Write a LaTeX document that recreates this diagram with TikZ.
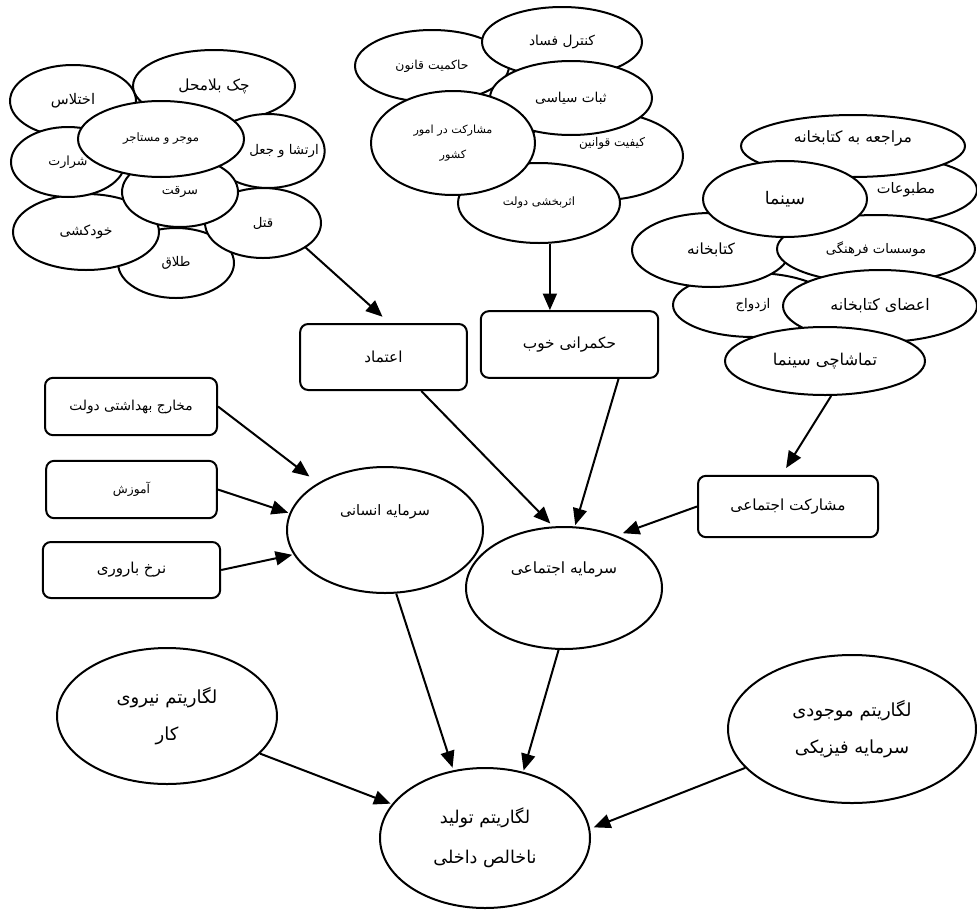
\documentclass[tikz,border=0pt]{standalone}
\usepackage{fontspec}
\newfontfamily\fafont[Script=Arabic]{DejaVu Sans}
\TeXXeTstate=1
\usetikzlibrary{shapes.geometric, arrows.meta}

\begin{document}
\begin{tikzpicture}[x=0.75pt, y=-0.75pt, >={Triangle[length=12.5pt,width=10.5pt]},
        every node/.style={font=\fafont\fontsize{11}{13}\selectfont},
        fsize/.style={font=\fafont\fontsize{#1}{#1}\selectfont},
        oval/.style={ellipse, draw, fill=white, line width=1.5pt, inner sep=0pt},
        box/.style={rectangle, rounded corners=6pt, draw, fill=white, line width=1.5pt, inner sep=0pt},
        link/.style={->, line width=1.5pt}]

        \useasboundingbox (0,0) rectangle (977,910);

        % social problems (left cluster)
        \node[oval, fsize=11, minimum width=94.5pt, minimum height=54pt] (ekhtelas) at (73,101) {\beginR اختلاس\endR};
        \node[oval, fsize=11.5, minimum width=121.5pt, minimum height=54pt] (chek) at (214,86) {\beginR چک بلامحل\endR};
        \node[oval, minimum width=85pt, minimum height=55.5pt, label={[fsize=10, xshift=12pt]center:\beginR ارتشا و جعل\endR}] (ertesha) at (268,151) {};
        \node[oval, fsize=10, minimum width=87pt, minimum height=52.5pt] (talagh) at (176,263) {\beginR طلاق\endR};
        \node[oval, fsize=10, minimum width=87pt, minimum height=52.5pt] (ghatl) at (263,223) {\beginR قتل\endR};
        \node[oval, fsize=10.5, minimum width=109.5pt, minimum height=57pt] (khodkoshi) at (86,232) {\beginR خودکشی\endR};
        \node[oval, fsize=9.5, minimum width=85.5pt, minimum height=52.5pt] (shararat) at (68,162) {\beginR شرارت\endR};
        \node[oval, fsize=9.5, minimum width=87pt, minimum height=52.5pt] (serghat) at (180,192) {\beginR سرقت\endR};
        \node[oval, fsize=8.7, minimum width=124.5pt, minimum height=57pt] (mojer) at (161,139) {\beginR موجر و مستاجر\endR};

        % governance (middle cluster)
        \node[oval, fsize=9.3, minimum width=115.5pt, minimum height=54pt] (hakemiat) at (432,66) {\beginR حاکمیت قانون\endR};
        \node[oval, fsize=10.3, minimum width=120pt, minimum height=52.5pt] (kontrol) at (562,42) {\beginR کنترل فساد\endR};
        \node[oval, minimum width=121.5pt, minimum height=66pt, label={[fsize=9, xshift=7.5pt, yshift=9.75pt]center:\beginR کیفیت قوانین\endR}] (keyfiat) at (602,156) {};
        \node[oval, fsize=10.2, minimum width=121.5pt, minimum height=55.5pt] (sobat) at (571,98) {\beginR ثبات سیاسی\endR};
        \node[oval, fsize=8.6, minimum width=121.5pt, minimum height=60pt] (asarbakhshi) at (539,203) {\beginR اثربخشی دولت\endR};
        \node[oval, align=center, minimum width=123pt, minimum height=78pt,
              font=\fafont\fontsize{8.4}{19}\selectfont] (mosharekat) at (453,143) {\beginR مشارکت در امور\endR\\\beginR کشور\endR};

        % cultural participation (right cluster)
        \node[oval, minimum width=145.5pt, minimum height=51pt, label={[fsize=10.9, xshift=19.5pt]center:\beginR مطبوعات\endR}] (matbuat) at (880,190) {};
        \node[oval, minimum width=168pt, minimum height=46.5pt, label={[fsize=11.7, yshift=6pt]center:\beginR مراجعه به کتابخانه\endR}] (moraje) at (853,146) {};
        \node[oval, fsize=10, minimum width=120pt, minimum height=48pt] (ezdevaj) at (753,305) {\beginR ازدواج\endR};
        \node[oval, fsize=11.5, minimum width=118.5pt, minimum height=55.5pt] (ketabkhane) at (711,250) {\beginR کتابخانه\endR};
        \node[oval, fsize=9.9, minimum width=148.5pt, minimum height=51pt] (moasesat) at (876,249) {\beginR موسسات فرهنگی\endR};
        \node[oval, fsize=13, minimum width=123pt, minimum height=57pt] (sinama) at (785,199) {\beginR سینما\endR};
        \node[oval, fsize=11.9, minimum width=145.5pt, minimum height=54pt] (aza) at (880,306) {\beginR اعضای کتابخانه\endR};
        \node[oval, fsize=12.2, minimum width=150pt, minimum height=51pt] (tamashachi) at (825,361) {\beginR تماشاچی سینما\endR};

        % boxes
        \node[box, fsize=11.4, minimum width=125pt, minimum height=49.5pt] (etemad) at (383.5,357) {\beginR اعتماد\endR};
        \node[box, fsize=11.5, minimum width=133pt, minimum height=50pt] (hokmrani) at (569.5,344.5) {\beginR حکمرانی خوب\endR};
        \node[box, fsize=11.5, minimum width=135pt, minimum height=46pt] (mosharekatEj) at (788,506.5) {\beginR مشارکت اجتماعی\endR};
        \node[box, fsize=10.3, minimum width=129pt, minimum height=43pt] (makharej) at (131,406.5) {\beginR مخارج بهداشتی دولت\endR};
        \node[box, fsize=9.2, minimum width=128pt, minimum height=43pt] (amuzesh) at (131.5,489.5) {\beginR آموزش\endR};
        \node[box, fsize=11.3, minimum width=133pt, minimum height=42pt] (nerkh) at (131.5,570) {\beginR نرخ باروری\endR};

        % capitals and output
        \node[oval, minimum width=147pt, minimum height=94.5pt, label={[fsize=10.8, yshift=13.5pt]center:\beginR سرمایه انسانی\endR}] (ensani) at (385,530) {};
        \node[oval, minimum width=147pt, minimum height=91.5pt, label={[fsize=11.6, yshift=13.5pt]center:\beginR سرمایه اجتماعی\endR}] (ejtemai) at (564,588) {};
        \node[oval, align=center, minimum width=165pt, minimum height=102pt,
              font=\fafont\fontsize{13.5}{28}\selectfont] (niru) at (167,716) {\beginR لگاریتم نیروی\endR\\\beginR کار\endR};
        \node[oval, align=center, minimum width=186pt, minimum height=111pt,
              font=\fafont\fontsize{13.5}{28}\selectfont] (fiziki) at (852,729) {\beginR لگاریتم موجودی\endR\\\beginR سرمایه فیزیکی\endR};
        \node[oval, align=center, minimum width=157.5pt, minimum height=105pt,
              font=\fafont\fontsize{13.2}{30}\selectfont] (tolid) at (485,838) {\beginR لگاریتم تولید\endR\\\beginR ناخالص داخلی\endR};

        \path[link] (ghatl.-30) edge[shorten >=7pt] (etemad.80)
                    (asarbakhshi.-75) edge (asarbakhshi.-75 |- hokmrani.north)
                    (tamashachi.-80) edge[shorten >=6pt] (mosharekatEj.101)
                    (makharej.east) edge[shorten >=8pt] (ensani.145)
                    (amuzesh.east) edge[shorten >=1pt] (ensani.170)
                    (nerkh.east) edge[shorten >=1pt] (ensani.-165)
                    (etemad.-42) edge[shorten >=3pt] (ejtemai.100)
                    (hokmrani.-35) edge[shorten >=1pt] (ejtemai.80)
                    (mosharekatEj.west) edge[shorten >=5pt] (ejtemai.45)
                    (ensani.-80) edge[shorten >=2pt] (tolid.115)
                    (ejtemai.-95) edge[shorten >=1pt] (tolid.60)
                    (niru.-22) edge[shorten >=1pt] (tolid.160)
                    (fiziki.-160) edge[shorten >=3pt] (tolid.5);
\end{tikzpicture}
\end{document}
